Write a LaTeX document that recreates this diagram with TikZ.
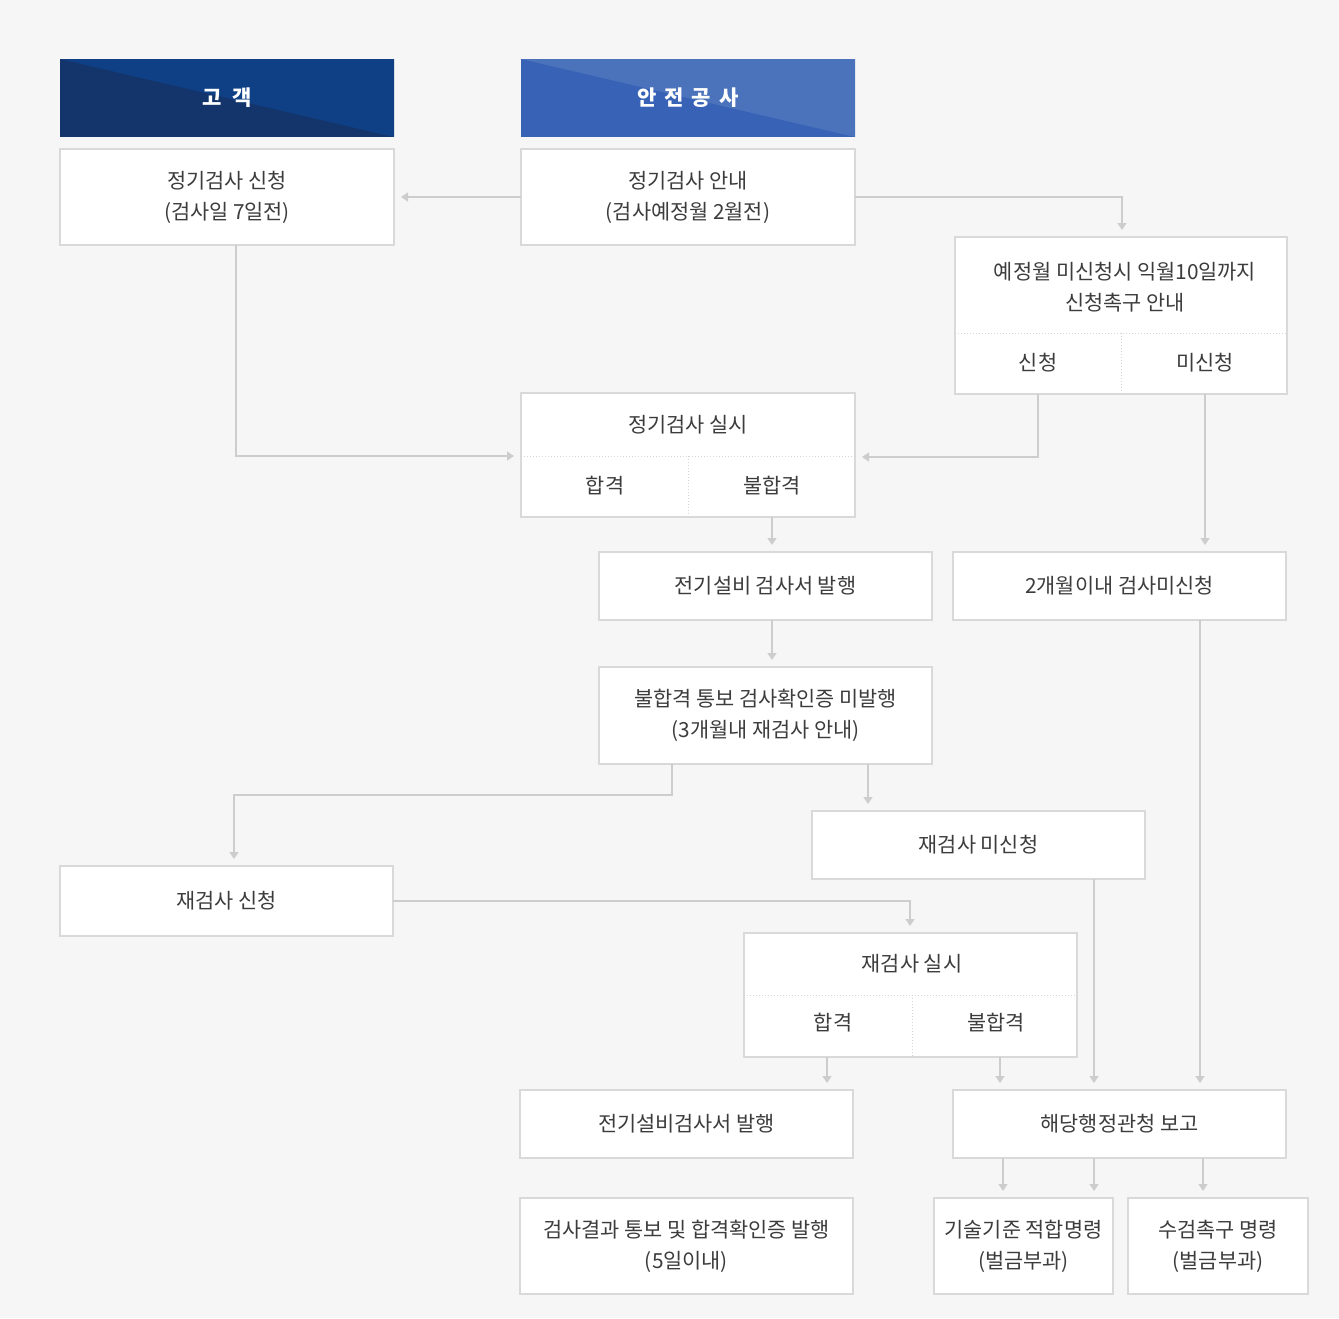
\documentclass[tikz,border=0pt]{standalone}
\usepackage{fontspec}
\setmainfont{Noto Sans CJK KR}
\usetikzlibrary{arrows.meta,calc}
\definecolor{bgc}{HTML}{F6F6F6}
\definecolor{boxline}{HTML}{D9D9D9}
\definecolor{linec}{HTML}{CDCDCD}
\definecolor{divc}{HTML}{D6D6D6}
\definecolor{txtc}{HTML}{3C3C3C}
\definecolor{navyL}{HTML}{0F3F84}
\definecolor{navyD}{HTML}{13356C}
\definecolor{blueL}{HTML}{4B73BC}
\definecolor{blueD}{HTML}{3762B6}
\newcommand\bx[6][]{\node[box,#1, minimum width={(#5-#3)*1pt}, minimum height={(#6-#4)*1pt}] (#2) at (#3,#4) {};}
\begin{document}
\begin{tikzpicture}[x=1pt,y=-1pt,
  box/.style={draw=boxline, line width=1.3pt, fill=white, inner sep=0pt, outer sep=0pt, anchor=north west},
  hdr/.style={draw=none},
  txt/.style={text=txtc, font=\fontsize{20.8}{31}\selectfont, align=center, inner sep=0pt},
  htxt/.style={text=white, font=\fontsize{21}{24}\selectfont\bfseries, inner sep=0pt},
  conn/.style={draw=linec, line width=1.3pt, -{Triangle[width=9pt,length=7pt]}, shorten >=7pt},
  divl/.style={draw=divc, line width=1pt, dotted}]
\fill[bgc] (0,0) rectangle (1339,1318);
\useasboundingbox (0,0) rectangle (1339,1318);
% headers
\bx[hdr,fill=navyD]{hA}{60}{59}{394}{137}
\fill[navyL] (hA.north west) -- (hA.north east) -- (hA.south east) -- cycle;
\node[htxt] (thA) at (hA) {\spaceskip=11pt 고 객};
\bx[hdr,fill=blueD]{hB}{521}{59}{855}{137}
\fill[blueL] (hB.north west) -- (hB.north east) -- (hB.south east) -- cycle;
\node[htxt] (thB) at (hB) {\spaceskip=8pt 안 전 공 사};
% boxes
\bx{b1}{60}{149}{394}{245}
\bx{b2}{521}{149}{855}{245}
\bx{b3}{955}{237}{1287}{394}
\bx{b4}{521}{393}{855}{517}
\bx{b5}{599}{552}{932}{620}
\bx{b6}{953}{552}{1286}{620}
\bx{b7}{599}{667}{932}{764}
\bx{b8}{812}{811}{1145}{879}
\bx{b9}{60}{866}{393}{936}
\bx{b10}{744}{933}{1077}{1057}
\bx{b11}{520}{1090}{853}{1158}
\bx{b12}{953}{1090}{1286}{1158}
\bx{b13}{520}{1198}{853}{1294}
\bx{b14}{934}{1198}{1113}{1294}
\bx{b15}{1128}{1198}{1308}{1294}
% dividers
\draw[divl] (b3.west |- 0,333) -- (b3.east |- 0,333);
\draw[divl] (1121,333) -- (1121,0 |- b3.south);
\draw[divl] (b4.west |- 0,456) -- (b4.east |- 0,456);
\draw[divl] (688,456) -- (688,0 |- b4.south);
\draw[divl] (b10.west |- 0,995) -- (b10.east |- 0,995);
\draw[divl] (912,995) -- (912,0 |- b10.south);
% texts
\node[txt] (t1) at (b1) {정기검사 신청\\(검사일 7일전)};
\node[txt] (t2) at (b2) {정기검사 안내\\(검사예정월 2월전)};
\node[txt] (t3) at (1125,287) {예정월 미신청시 익월10일까지\\신청촉구 안내};
\node[txt] (t3a) at (1038,363) {신청};
\node[txt] (t3b) at (1205,363) {미신청};
\node[txt] (t4) at (688,425) {정기검사 실시};
\node[txt] (t4a) at (605,486) {합격};
\node[txt] (t4b) at (772,486) {불합격};
\node[txt] (t5) at (b5) {전기설비 검사서 발행};
\node[txt] (t6) at (b6) {2개월이내 검사미신청};
\node[txt] (t7) at (b7) {불합격 통보 검사확인증 미발행\\(3개월내 재검사 안내)};
\node[txt] (t8) at (b8) {재검사 미신청};
\node[txt] (t9) at (b9) {재검사 신청};
\node[txt] (t10) at (912,964) {재검사 실시};
\node[txt] (t10a) at (833,1023) {합격};
\node[txt] (t10b) at (996,1023) {불합격};
\node[txt] (t11) at (b11) {전기설비검사서 발행};
\node[txt] (t12) at (b12) {해당행정관청 보고};
\node[txt] (t13) at (b13) {검사결과 통보 및 합격확인증 발행\\(5일이내)};
\node[txt] (t14) at (b14) {기술기준 적합명령\\(벌금부과)};
\node[txt] (t15) at (b15) {수검촉구 명령\\(벌금부과)};
% connectors
\draw[conn] (b2.west) -- (b1.east);
\draw[conn] (b2.east) -- (1122,0 |- b2.east) -- (1122,0 |- b3.north);
\draw[conn] (236,0 |- b1.south) -- (236,456) -- (b4.west |- 0,456);
\draw[conn] (1038,0 |- b3.south) -- (1038,457) -- (b4.east |- 0,457);
\draw[conn] (1205,0 |- b3.south) -- (1205,0 |- b6.north);
\draw[conn] (772,0 |- b4.south) -- (772,0 |- b5.north);
\draw[conn] (772,0 |- b5.south) -- (772,0 |- b7.north);
\draw[conn] (672,0 |- b7.south) -- (672,795) -- (234,795) -- (234,0 |- b9.north);
\draw[conn] (868,0 |- b7.south) -- (868,0 |- b8.north);
\draw[conn] (b9.east) -- (910,0 |- b9.east) -- (910,0 |- b10.north);
\draw[conn] (827,0 |- b10.south) -- (827,0 |- b11.north);
\draw[conn] (1000,0 |- b10.south) -- (1000,0 |- b12.north);
\draw[conn] (1094,0 |- b8.south) -- (1094,0 |- b12.north);
\draw[conn] (1200,0 |- b6.south) -- (1200,0 |- b12.north);
\draw[conn] (1003,0 |- b12.south) -- (1003,0 |- b14.north);
\draw[conn] (1094,0 |- b12.south) -- (1094,0 |- b14.north);
\draw[conn] (1203,0 |- b12.south) -- (1203,0 |- b15.north);
\end{tikzpicture}
\end{document}
